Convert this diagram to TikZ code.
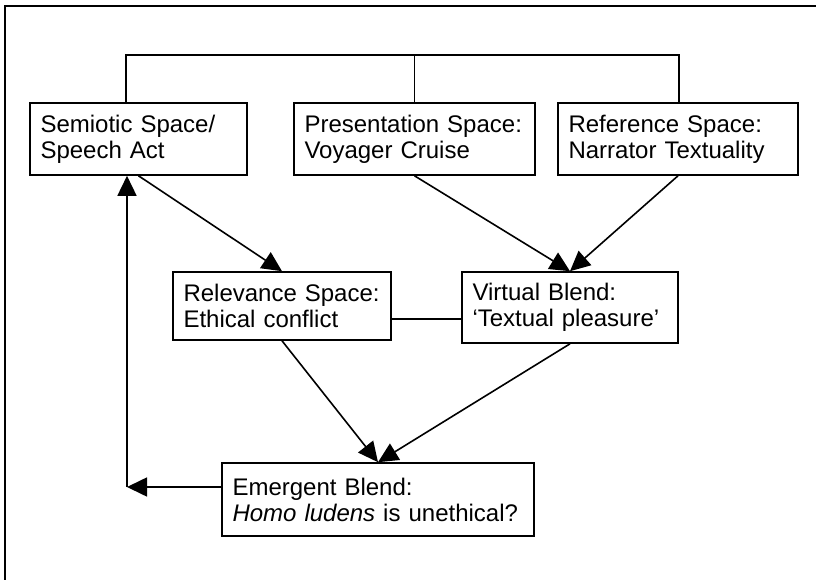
\documentclass[tikz,border=0pt]{standalone}
\usepackage{fontspec}
\setmainfont{Liberation Sans}
\usetikzlibrary{arrows.meta}
\begin{document}
\begin{tikzpicture}[x=1pt,y=-1pt,
  space/.style={draw, line width=1.6pt, fill=white, inner xsep=10.5pt, inner ysep=0pt,
    align=left, font=\fontsize{24}{26}\selectfont},
  link/.style={line width=1.6pt},
  flow/.style={line width=1.6pt, -{Triangle[length=20pt,width=19pt]}}]
  \useasboundingbox (0,0) rectangle (816,580);
  % frame
  \draw[line width=1.8pt] (5,580) -- (5,6) -- (816,6);

  % mental spaces
  \node[space, text width=196pt, minimum height=72pt] (semiotic) at (138.5,139)
    {Semiotic Space/\\Speech Act};
  \node[space, text width=220pt, minimum height=72pt] (present) at (414.5,139)
    {Presentation Space:\\Voyager Cruise};
  \node[space, text width=219pt, minimum height=72pt] (reference) at (678,139)
    {Reference Space:\\Narrator Textuality};
  \node[space, text width=197pt, minimum height=68pt] (relevance) at (282,306)
    {Relevance Space:\\Ethical conflict};
  \node[space, text width=195pt, minimum height=71pt] (virtual) at (570,307.5)
    {Virtual Blend:\\‘Textual pleasure’};
  \node[space, text width=291pt, minimum height=73pt] (emergent) at (378,499.5)
    {Emergent Blend:\\\textit{Homo ludens} is unethical?};

  % helper points for the bracket and the feedback loop
  \coordinate (bl) at (126,55);
  \coordinate (br) at (679,55);
  \coordinate (rv) at (0,319);
  \coordinate (loop) at (127,487);

  % bracket over the input spaces
  \draw[link] (bl |- semiotic.north) -- (bl) -- (br) -- (br |- reference.north);
  \draw[link] (present.north) -- (present.north |- bl);

  % relevance -- virtual
  \draw[link] (relevance.east |- rv) -- (virtual.west |- rv);

  % projections
  \draw[flow] (semiotic.south) -- (relevance.north);
  \draw[flow] (present.south) -- (virtual.north);
  \draw[flow] (reference.south) -- (virtual.north);
  \draw[flow] (relevance.south) -- (emergent.north);
  \draw[flow] (virtual.south) -- (emergent.north);

  % feedback to the semiotic space
  \draw[flow] (loop -| emergent.west) -- (loop);
  \draw[flow] (loop) -- (loop |- semiotic.south);
\end{tikzpicture}
\end{document}
